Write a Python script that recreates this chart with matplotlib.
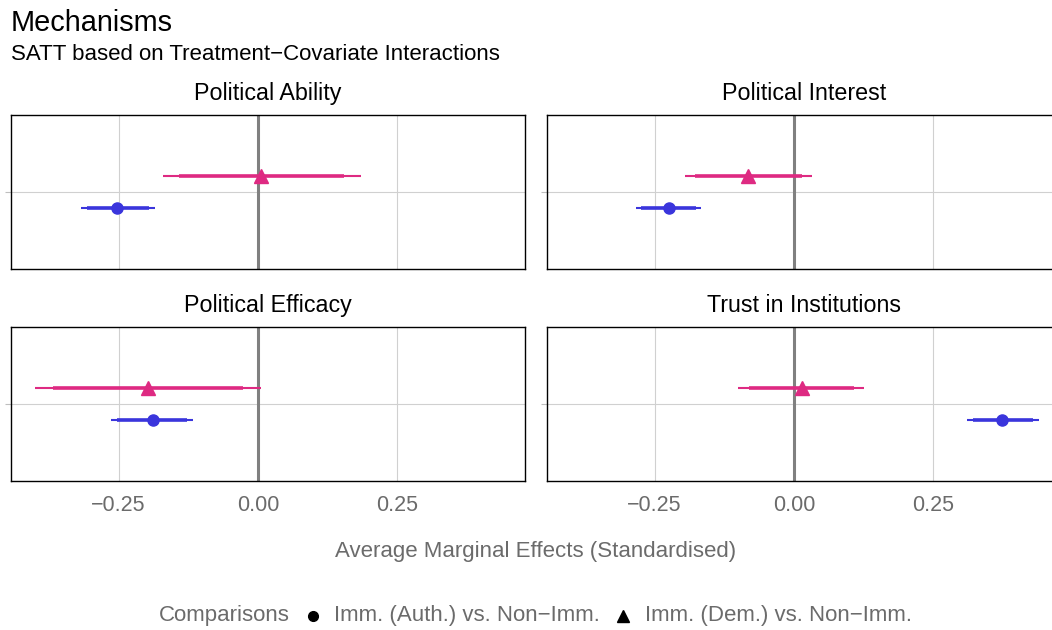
import matplotlib
matplotlib.use("Agg")
import matplotlib.pyplot as plt
from matplotlib.lines import Line2D

plt.rcParams['font.family'] = ['Liberation Sans', 'DejaVu Sans']

# data
panels = ["Political Ability", "Political Interest", "Political Efficacy", "Trust in Institutions"]

# Imm. (Auth.) vs. Non-Imm.
auth_est = [-0.252, -0.225, -0.189, 0.374]
auth_lo95 = [-0.318, -0.284, -0.263, 0.311]
auth_hi95 = [-0.184, -0.166, -0.116, 0.439]
auth_lo90 = [-0.307, -0.275, -0.253, 0.321]
auth_hi90 = [-0.195, -0.175, -0.128, 0.428]

# Imm. (Dem.) vs. Non-Imm.
dem_est = [0.005, -0.082, -0.198, 0.015]
dem_lo95 = [-0.171, -0.196, -0.400, -0.100]
dem_hi95 = [0.184, 0.032, 0.005, 0.126]
dem_lo90 = [-0.142, -0.178, -0.368, -0.081]
dem_hi90 = [0.155, 0.014, -0.027, 0.108]

ticks = [-0.25, 0.0, 0.25]
tick_labels = ["\u22120.25", "0.00", "0.25"]
legend_labels = ["Imm. (Auth.) vs. Non\u2212Imm.", "Imm. (Dem.) vs. Non\u2212Imm."]

blue = "#3A35DC"
pink = "#DE2A82"
grey_txt = "#6b6b6b"

W, H = 1052, 630
fig = plt.figure(figsize=(W / 100, H / 100), dpi=100)

def fx(px):
    return px / W

def fy(py):
    return 1 - py / H

# panel boxes in pixels: (left, top, width, height)
boxes = [(11, 115, 514, 154), (547, 115, 514, 154),
         (11, 327, 514, 154), (547, 327, 514, 154)]

for i, name in enumerate(panels):
    l, t, w, h = boxes[i]
    ax = fig.add_axes([fx(l), fy(t + h), w / W, h / H])
    ax.set_xlim(-0.443, 0.479)
    ax.set_ylim(0.4, 1.6)
    ax.set_xticks(ticks)
    ax.set_yticks([1])
    ax.set_yticklabels([""])
    ax.grid(True, color="#D0D0D0", lw=0.8)
    ax.set_axisbelow(True)
    ax.axvline(0, color="#808080", lw=2.2, zorder=1)

    yd, ya = 1.125, 0.875
    ax.plot([dem_lo95[i], dem_hi95[i]], [yd, yd], color=pink, lw=1.5, solid_capstyle="butt", zorder=2)
    ax.plot([dem_lo90[i], dem_hi90[i]], [yd, yd], color=pink, lw=2.6, solid_capstyle="butt", zorder=2)
    ax.plot(dem_est[i], yd, marker="^", color=pink, ms=10, zorder=3)
    ax.plot([auth_lo95[i], auth_hi95[i]], [ya, ya], color=blue, lw=1.5, solid_capstyle="butt", zorder=2)
    ax.plot([auth_lo90[i], auth_hi90[i]], [ya, ya], color=blue, lw=2.6, solid_capstyle="butt", zorder=2)
    ax.plot(auth_est[i], ya, marker="o", color=blue, ms=8, zorder=3)

    for s in ax.spines.values():
        s.set_color("black")
        s.set_linewidth(1.0)
    ax.tick_params(axis="y", length=4, color="#BEBEBE", width=0.8)
    if i >= 2:
        ax.set_xticklabels(tick_labels, fontsize=15.5, color=grey_txt)
        ax.tick_params(axis="x", length=0, pad=10)
    else:
        ax.set_xticklabels([])
        ax.tick_params(axis="x", length=0)

    fig.text(fx(l + w / 2), fy(t - 15), name, ha="center", va="baseline", fontsize=16.75)

fig.text(fx(11), fy(31), "Mechanisms", ha="left", va="baseline", fontsize=20.8)
fig.text(fx(11), fy(60), "SATT based on Treatment\u2212Covariate Interactions",
         ha="left", va="baseline", fontsize=16)
fig.text(fx(536), fy(551), "Average Marginal Effects (Standardised)",
         ha="center", va="center", fontsize=16, color=grey_txt)

# legend, laid out by hand in one row
ly = 616
fig.text(fx(159), fy(ly), "Comparisons", ha="left", va="center", fontsize=16, color=grey_txt)
fig.add_artist(Line2D([fx(313)], [fy(ly)], marker="o", color="black", ms=7, transform=fig.transFigure))
fig.text(fx(334), fy(ly), legend_labels[0], ha="left", va="center", fontsize=16, color=grey_txt)
fig.add_artist(Line2D([fx(623)], [fy(ly)], marker="^", color="black", ms=9, transform=fig.transFigure))
fig.text(fx(645), fy(ly), legend_labels[1], ha="left", va="center", fontsize=16, color=grey_txt)

fig.savefig("out.png", dpi=100)
